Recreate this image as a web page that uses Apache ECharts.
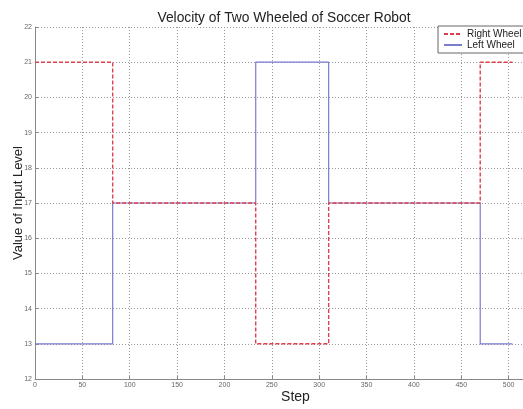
<!DOCTYPE html>
<html><head><meta charset="utf-8">
<script src="https://cdn.jsdelivr.net/npm/echarts@6/dist/echarts.min.js"></script>
<style>html,body{margin:0;padding:0;background:#fff}#c{width:523px;height:409px}</style>
</head><body><div id="c"></div>
<script>
var titleText = "Velocity of Two Wheeled of Soccer Robot";
var xLabel = "Step";
var yLabel = "Value of Input Level";
var seriesNames = ["Right Wheel", "Left Wheel"];
var stepX = [0, 82, 233, 310, 470, 504];
var rightWheel = [21, 17, 13, 17, 21, 21];
var leftWheel = [13, 17, 21, 17, 13, 13];
var xTicks = [0, 50, 100, 150, 200, 250, 300, 350, 400, 450, 500, 550];
var yTicks = [12, 13, 14, 15, 16, 17, 18, 19, 20, 21, 22];

function pairs(xs, ys){ return xs.map(function(x,i){return [x, ys[i]];}); }

var chart = echarts.init(document.getElementById('c'), null, {renderer:'canvas'});
var font = 'Liberation Sans, Arial, sans-serif';
chart.setOption({
  animation:false,
  backgroundColor:'#fff',
  title:{text:titleText, left:279, top:6, textAlign:'center',
    textStyle:{fontFamily:font, fontSize:13.8, fontWeight:'normal', color:'#222'}},
  grid:{left:35, top:27, width:521, height:352, containLabel:false, outerBoundsMode:'none'},
  xAxis:{type:'value', min:0, max:550, interval:50,
    name:xLabel, nameLocation:'middle', nameGap:11, nameMoveOverlap:false,
    nameTextStyle:{fontFamily:font, fontSize:14, color:'#222', verticalAlign:'top'},
    axisLine:{show:true, lineStyle:{color:'#888', width:1}},
    axisTick:{show:true, inside:true, length:3, lineStyle:{color:'#888'}},
    axisLabel:{fontFamily:font, fontSize:7, color:'#666', margin:3, showMaxLabel:false,
      formatter:function(v){return xTicks.indexOf(v)>=0 && v<=500 ? String(v) : '';}},
    splitLine:{show:true, lineStyle:{color:'#999', type:[1,2], width:1}}
  },
  yAxis:{type:'value', min:12, max:22, interval:1,
    name:yLabel, nameLocation:'middle', nameGap:10.5, nameRotate:90, nameMoveOverlap:false,
    nameTextStyle:{fontFamily:font, fontSize:13, color:'#222'},
    axisLine:{show:true, lineStyle:{color:'#888', width:1}},
    axisTick:{show:true, inside:true, length:3, lineStyle:{color:'#888'}},
    axisLabel:{fontFamily:font, fontSize:7, color:'#666', margin:3,
      formatter:function(v){return yTicks.indexOf(v)>=0 ? String(v) : '';}},
    splitLine:{show:true, lineStyle:{color:'#999', type:[1,2], width:1}}
  },
  legend:{data:seriesNames, orient:'vertical', left:438, top:26, itemGap:1,
    itemWidth:18, itemHeight:10, padding:[3,12,3,5],
    borderColor:'#666', borderWidth:1, backgroundColor:'#fff',
    itemStyle:{opacity:0},
    textStyle:{fontFamily:font, fontSize:10, color:'#222'}},
  series:[
    {name:seriesNames[1], type:'line', step:'end', data:pairs(stepX, leftWheel),
      symbol:'none', itemStyle:{color:'#7b7bd0'}, lineStyle:{width:1.2, color:'#7b7bd0'}, z:2},
    {name:seriesNames[0], type:'line', step:'end', data:pairs(stepX, rightWheel),
      symbol:'none', itemStyle:{color:'#e0404e'}, lineStyle:{width:1.4, type:[4,2], color:'#e0404e'}, z:3}
  ]
});
</script></body></html>
